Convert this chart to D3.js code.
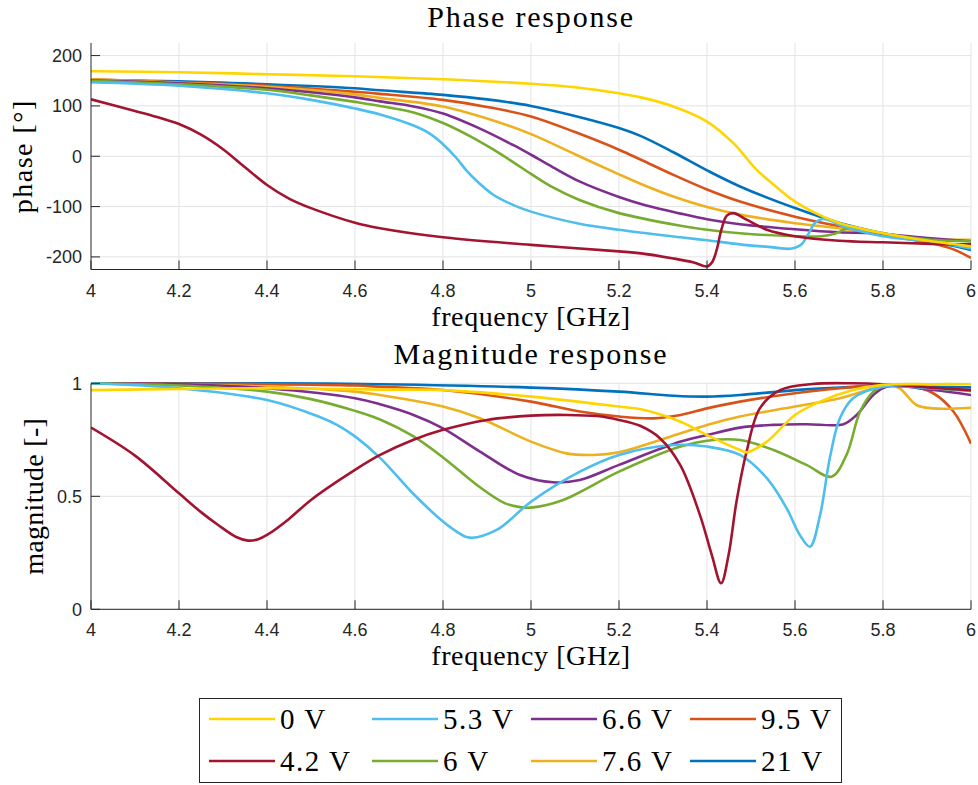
<!DOCTYPE html>
<html>
<head>
<meta charset="utf-8">
<script src="https://cdn.jsdelivr.net/npm/d3@7"></script>
<style>
  body { margin: 0; background: #fff; }
</style>
</head>
<body>
<div id="chart"></div>
<script>
// legend order (column-wise in the legend box)
var names  = ["0 V", "4.2 V", "5.3 V", "6 V", "6.6 V", "7.6 V", "9.5 V", "21 V"];
var colors = ["#FFD500", "#A2142F", "#4DBEEE", "#77AC30", "#7E2F8E", "#EDB120", "#D95319", "#0072BD"];
// drawing order (last one on top)
var drawOrder = [7, 6, 5, 4, 3, 2, 1, 0];

var xTicks     = [4, 4.2, 4.4, 4.6, 4.8, 5, 5.2, 5.4, 5.6, 5.8, 6];
var phaseTicks = [-200, -100, 0, 100, 200];
var magTicks   = [0, 0.5, 1];

// phase [deg] vs frequency [GHz]
var phase0V  = [[4.0,169],[4.2,167],[4.4,163],[4.6,159],[4.8,153],[5.0,144],[5.1,137],[5.2,125],[5.25,117],[5.3235,99],[5.4,69],[5.46,26],[5.513,-27],[5.566,-67],[5.6,-90],[5.664,-120],[5.702,-133],[5.8,-153],[5.91,-169],[6.0,-179]];
var phase42V = [[4.0,113],[4.1,90],[4.15,78],[4.2,64],[4.25,43],[4.3,14],[4.35,-22],[4.4,-57],[4.45,-84],[4.5,-103],[4.6,-132],[4.657,-143],[4.8,-161],[5.0,-176],[5.2,-189],[5.25,-193],[5.3235,-203],[5.37,-211],[5.4,-219],[5.412,-210],[5.422,-186],[5.433,-145],[5.445,-118],[5.46,-113],[5.49,-126],[5.536,-146],[5.6,-159],[5.7,-168],[5.8,-171],[5.91,-174],[6.0,-175]];
var phase53V = [[4.0,147],[4.2,140],[4.4,125],[4.5,112],[4.6,95],[4.657,83],[4.733,61],[4.77,45],[4.8,24],[4.83,-3],[4.854,-29],[4.884,-55],[4.915,-77],[4.96,-97],[5.0,-110],[5.11,-134],[5.2,-146],[5.34,-161],[5.4,-167],[5.475,-175],[5.55,-181],[5.585,-184],[5.6,-182],[5.615,-175],[5.63,-155],[5.645,-133],[5.66,-125],[5.68,-128],[5.7,-136],[5.8,-159],[5.91,-170],[6.0,-183]];
var phase6V  = [[4.0,150],[4.2,143],[4.4,132],[4.5,121],[4.6,108],[4.657,100],[4.733,87],[4.8,66],[4.861,40],[4.915,13],[4.96,-12],[5.0,-35],[5.05,-62],[5.11,-87],[5.2,-113],[5.34,-138],[5.4,-146],[5.475,-153],[5.6,-159],[5.66,-159],[5.69,-154],[5.72,-143],[5.745,-143],[5.77,-148],[5.8,-153],[5.91,-166],[6.0,-169]];
var phase66V = [[4.0,151],[4.2,145],[4.4,135],[4.5,127],[4.6,117],[4.657,109],[4.733,99],[4.8,85],[4.884,55],[4.96,22],[5.0,3],[5.05,-22],[5.11,-50],[5.2,-81],[5.262,-98],[5.34,-114],[5.4,-125],[5.475,-135],[5.6,-145],[5.7,-151],[5.78,-153],[5.91,-163],[6.0,-169]];
var phase76V = [[4.0,153],[4.2,146],[4.4,138],[4.6,123],[4.657,116],[4.8,99],[4.9,75],[5.0,44],[5.1,4],[5.2,-36],[5.25,-55],[5.3235,-80],[5.4,-101],[5.475,-116],[5.6,-133],[5.7,-143],[5.8,-155],[5.91,-165],[6.0,-166]];
var phase95V = [[4.0,153],[4.2,147],[4.4,140],[4.6,128],[4.657,124],[4.8,112],[4.9,98],[5.0,79],[5.1,48],[5.2,13],[5.25,-7],[5.3235,-37],[5.4,-66],[5.475,-90],[5.6,-120],[5.7,-139],[5.8,-156],[5.91,-173],[5.96,-185],[6.0,-202]];
var phase21V = [[4.0,151],[4.2,149],[4.4,143],[4.6,135],[4.657,131],[4.8,122],[4.9,113],[5.0,100],[5.1,80],[5.2,56],[5.25,40],[5.3235,8],[5.4,-28],[5.475,-60],[5.6,-103],[5.7,-132],[5.8,-153],[5.91,-169],[6.0,-186]];

// magnitude [-] vs frequency [GHz]
var mag0V  = [[4.0,0.97],[4.2,0.975],[4.4,0.978],[4.66,0.972],[4.8,0.97],[5.0,0.941],[5.2,0.897],[5.25,0.885],[5.34,0.83],[5.4,0.771],[5.475,0.705],[5.49,0.695],[5.536,0.742],[5.6,0.86],[5.657,0.919],[5.732,0.97],[5.8,0.993],[5.91,0.996],[6.0,0.996]];
var mag42V = [[4.0,0.804],[4.1,0.68],[4.2,0.513],[4.25,0.43],[4.289,0.373],[4.33,0.32],[4.357,0.304],[4.38,0.31],[4.4,0.329],[4.45,0.4],[4.5,0.484],[4.6,0.617],[4.657,0.683],[4.733,0.75],[4.8,0.794],[4.9,0.838],[5.0,0.857],[5.08,0.86],[5.15,0.855],[5.2,0.838],[5.248,0.812],[5.293,0.757],[5.339,0.639],[5.384,0.417],[5.411,0.24],[5.432,0.115],[5.449,0.24],[5.467,0.476],[5.49,0.698],[5.52,0.889],[5.566,0.97],[5.64,0.997],[5.73,1.0],[5.8,0.996],[5.91,0.981],[6.0,0.97]];
var mag53V = [[4.0,1.0],[4.2,0.978],[4.4,0.926],[4.517,0.853],[4.56,0.815],[4.6,0.765],[4.657,0.67],[4.733,0.51],[4.8,0.388],[4.83,0.345],[4.861,0.317],[4.922,0.351],[5.0,0.476],[5.111,0.609],[5.2,0.683],[5.324,0.727],[5.4,0.72],[5.475,0.683],[5.536,0.58],[5.581,0.447],[5.611,0.329],[5.634,0.277],[5.657,0.417],[5.679,0.668],[5.702,0.845],[5.732,0.934],[5.8,0.985],[5.91,0.978],[6.0,0.97]];
var mag6V  = [[4.0,1.0],[4.2,0.99],[4.4,0.963],[4.5,0.93],[4.6,0.878],[4.657,0.84],[4.733,0.765],[4.8,0.672],[4.884,0.54],[4.94,0.47],[4.975,0.452],[5.0,0.45],[5.073,0.484],[5.2,0.609],[5.34,0.72],[5.4,0.746],[5.475,0.749],[5.551,0.705],[5.626,0.639],[5.683,0.587],[5.717,0.683],[5.748,0.875],[5.778,0.963],[5.808,0.993],[5.914,0.978],[6.0,0.966]];
var mag66V = [[4.0,1.0],[4.2,0.996],[4.4,0.978],[4.6,0.934],[4.657,0.907],[4.733,0.86],[4.8,0.801],[4.884,0.698],[4.975,0.594],[5.05,0.562],[5.111,0.572],[5.2,0.639],[5.34,0.742],[5.4,0.771],[5.475,0.804],[5.551,0.816],[5.626,0.819],[5.71,0.819],[5.74,0.86],[5.778,0.948],[5.808,0.985],[5.914,0.97],[6.0,0.948]];
var mag76V = [[4.0,1.0],[4.4,0.985],[4.6,0.963],[4.657,0.948],[4.8,0.897],[4.884,0.845],[5.0,0.742],[5.081,0.69],[5.142,0.683],[5.2,0.695],[5.34,0.779],[5.4,0.816],[5.475,0.853],[5.6,0.897],[5.702,0.934],[5.778,0.978],[5.808,0.996],[5.838,0.978],[5.876,0.904],[5.914,0.889],[6.0,0.892]];
var mag95V = [[4.0,1.0],[4.4,0.996],[4.6,0.99],[4.657,0.985],[4.8,0.97],[5.0,0.919],[5.111,0.875],[5.2,0.853],[5.278,0.845],[5.34,0.86],[5.4,0.889],[5.475,0.919],[5.6,0.956],[5.702,0.978],[5.8,0.99],[5.853,0.99],[5.914,0.956],[5.96,0.875],[6.0,0.733]];
var mag21V = [[4.0,1.0],[4.4,1.0],[4.657,0.996],[5.0,0.981],[5.2,0.963],[5.324,0.945],[5.4,0.941],[5.475,0.948],[5.6,0.97],[5.702,0.981],[5.8,0.99],[5.914,0.985],[6.0,0.982]];

var phaseData = [phase0V, phase42V, phase53V, phase6V, phase66V, phase76V, phase95V, phase21V];
var magData   = [mag0V, mag42V, mag53V, mag6V, mag66V, mag76V, mag95V, mag21V];

var W = 978, H = 785;
var serif = "'Liberation Serif', 'DejaVu Serif', serif";
var sans  = "'Liberation Sans', Arial, Helvetica, sans-serif";
var ink = "#262626";

var svg = d3.select("#chart").append("svg")
  .attr("width", W).attr("height", H)
  .style("background", "#fff");

var x = d3.scaleLinear().domain([4, 6]).range([91, 971]);

function drawPanel(opts) {
  var y = d3.scaleLinear().domain(opts.domain).range([opts.bottom, opts.top]);
  var g = svg.append("g");

  // grid
  g.selectAll(".vg").data(xTicks.slice(1)).enter().append("line")
    .attr("x1", function(d){ return x(d); }).attr("x2", function(d){ return x(d); })
    .attr("y1", opts.top).attr("y2", opts.bottom)
    .attr("stroke", "#e3e3e3").attr("stroke-width", 1);
  g.selectAll(".hg").data(opts.ticks).enter().append("line")
    .attr("x1", x(4)).attr("x2", x(6))
    .attr("y1", function(d){ return y(d); }).attr("y2", function(d){ return y(d); })
    .attr("stroke", "#e3e3e3").attr("stroke-width", 1);

  // curves
  var clipId = "clip" + opts.id;
  svg.append("clipPath").attr("id", clipId).append("rect")
    .attr("x", x(4)).attr("y", opts.top - 2).attr("width", x(6) - x(4)).attr("height", opts.bottom - opts.top + 4);
  var line = d3.line()
    .x(function(d){ return x(d[0]); })
    .y(function(d){ return y(d[1]); })
    .curve(d3.curveCatmullRom.alpha(0.5));
  var lg = g.append("g").attr("clip-path", "url(#" + clipId + ")");
  drawOrder.forEach(function(i) {
    lg.append("path")
      .attr("d", line(opts.data[i]))
      .attr("fill", "none")
      .attr("stroke", colors[i])
      .attr("stroke-width", 2.6)
      .attr("stroke-linejoin", "round");
  });

  // axes lines + ticks (ticks point inward)
  g.append("line").attr("x1", x(4)).attr("x2", x(6)).attr("y1", opts.bottom).attr("y2", opts.bottom)
    .attr("stroke", ink).attr("stroke-width", 1);
  g.append("line").attr("x1", x(4)).attr("x2", x(4)).attr("y1", opts.top).attr("y2", opts.bottom)
    .attr("stroke", ink).attr("stroke-width", 1);
  g.selectAll(".xt").data(xTicks).enter().append("line")
    .attr("x1", function(d){ return x(d); }).attr("x2", function(d){ return x(d); })
    .attr("y1", opts.bottom).attr("y2", opts.bottom - 9)
    .attr("stroke", ink).attr("stroke-width", 1);
  g.selectAll(".yt").data(opts.ticks).enter().append("line")
    .attr("x1", x(4)).attr("x2", x(4) + 9)
    .attr("y1", function(d){ return y(d); }).attr("y2", function(d){ return y(d); })
    .attr("stroke", ink).attr("stroke-width", 1);

  // tick labels
  g.selectAll(".xl").data(xTicks).enter().append("text")
    .attr("x", function(d){ return x(d); })
    .attr("y", opts.bottom + 27)
    .attr("text-anchor", "middle")
    .attr("font-family", sans).attr("font-size", "18px").attr("fill", ink)
    .text(function(d){ return String(d); });
  g.selectAll(".yl").data(opts.ticks).enter().append("text")
    .attr("x", 82)
    .attr("y", function(d){ return y(d); })
    .attr("dy", "0.35em")
    .attr("text-anchor", "end")
    .attr("font-family", sans).attr("font-size", "18px").attr("fill", ink)
    .text(function(d){ return String(d); });

  // titles
  g.append("text")
    .attr("x", 531).attr("y", opts.titleY)
    .attr("text-anchor", "middle")
    .attr("font-family", serif).attr("font-size", "30px").attr("fill", "#000")
    .attr("letter-spacing", "1.8px")
    .text(opts.title);
  g.append("text")
    .attr("x", 531).attr("y", opts.bottom + 56)
    .attr("text-anchor", "middle")
    .attr("font-family", serif).attr("font-size", "28px").attr("fill", "#000")
    .attr("letter-spacing", "0.6px")
    .text("frequency [GHz]");
  g.append("text")
    .attr("transform", "translate(" + opts.ylabelX + "," + ((opts.top + opts.bottom) / 2) + ") rotate(-90)")
    .attr("text-anchor", "middle")
    .attr("font-family", serif).attr("font-size", "28px").attr("fill", "#000")
    .attr("letter-spacing", opts.ylabelSpacing)
    .text(opts.ylabel);
}

drawPanel({ id: 1, data: phaseData, domain: [-225, 225], top: 43, bottom: 269.5,
  ticks: phaseTicks, title: "Phase response", titleY: 27, ylabel: "phase [°]", ylabelX: 32, ylabelSpacing: "1.5px" });
drawPanel({ id: 2, data: magData, domain: [0, 1], top: 383.3, bottom: 609.3,
  ticks: magTicks, title: "Magnitude response", titleY: 364, ylabel: "magnitude [-]", ylabelX: 43, ylabelSpacing: "0.3px" });

// legend
var legend = svg.append("g");
legend.append("rect")
  .attr("x", 199.5).attr("y", 698.5).attr("width", 642).attr("height", 84)
  .attr("fill", "#fff").attr("stroke", ink).attr("stroke-width", 1);
var colX = [209, 372, 531, 690];
var rowY = [719, 761];
names.forEach(function(n, i) {
  var c = Math.floor(i / 2), r = i % 2;
  legend.append("line")
    .attr("x1", colX[c]).attr("x2", colX[c] + 66)
    .attr("y1", rowY[r]).attr("y2", rowY[r])
    .attr("stroke", colors[i]).attr("stroke-width", 2.6);
  legend.append("text")
    .attr("x", colX[c] + 71).attr("y", rowY[r])
    .attr("dy", "0.35em")
    .attr("font-family", serif).attr("font-size", "29px").attr("fill", "#000")
    .attr("letter-spacing", "1.5px")
    .text(n);
});
</script>
</body>
</html>
